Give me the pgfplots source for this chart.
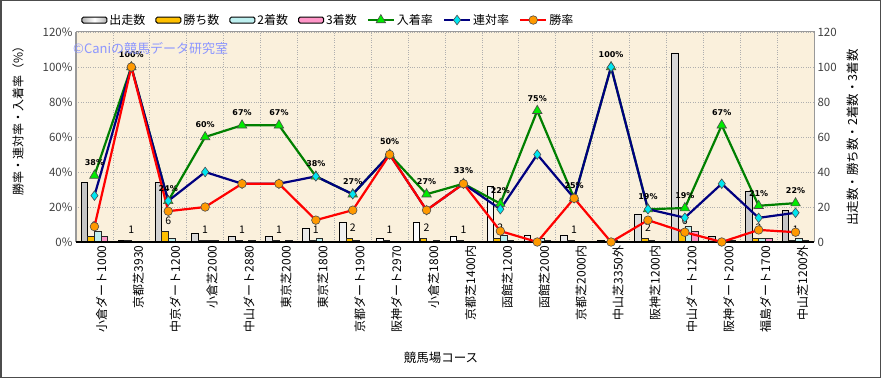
\documentclass[border=0pt]{standalone}
\usepackage{fontspec}
\setmainfont{Noto Sans CJK JP}
\newfontfamily\lblfont{DejaVu Sans}
\usepackage{pgfplots}
\pgfplotsset{compat=1.18}
\usepackage{pgfplotstable}

\definecolor{bgc}{RGB}{250,240,220}
\definecolor{gridc}{RGB}{175,175,175}
\definecolor{goldc}{RGB}{255,192,0}
\definecolor{cyanl}{RGB}{190,240,240}
\definecolor{pinkc}{RGB}{255,150,200}
\definecolor{greenl}{RGB}{0,128,0}
\definecolor{greenm}{RGB}{0,235,0}
\definecolor{navyl}{RGB}{0,0,128}
\definecolor{cyanm}{RGB}{0,230,240}
\definecolor{redl}{RGB}{255,0,0}
\definecolor{orangem}{RGB}{255,153,0}
\definecolor{wm}{RGB}{140,150,255}

\pgfplotsset{linelegend/.style={legend image code/.code={\draw[mark repeat=2,mark phase=2,##1] plot coordinates {(0pt,0pt)(13pt,0pt)(26pt,0pt)};}}}

\pgfplotstableread[col sep=comma]{
x,n,w,s,t,win,ren,fuk,lf,lw
0,34,3,6,3,8.8,26.5,38,38\%,3
1,1,1,0,0,100,100,100,100\%,1
2,34,6,2,0,17.6,23.5,23.5,24\%,6
3,5,1,1,1,20,40,60,60\%,1
4,3,1,0,1,33.3,33.3,66.7,67\%,1
5,3,1,0,1,33.3,33.3,66.7,67\%,1
6,8,1,2,0,12.5,37.5,37.5,38\%,1
7,11,2,1,0,18.2,27.3,27.3,27\%,2
8,2,1,0,0,50,50,50,50\%,1
9,11,2,0,1,18.2,18.2,27.3,27\%,2
10,3,1,0,0,33.3,33.3,33.3,33\%,1
11,32,2,4,1,6.25,18.75,21.9,22\%,2
12,4,0,2,1,0,50,75,75\%,{}
13,4,1,0,0,25,25,25,25\%,1
14,1,0,1,0,0,100,100,100\%,{}
15,16,2,1,0,12.5,18.75,18.75,19\%,2
16,108,6,9,6,5.6,13.9,19.4,19\%,6
17,3,0,1,1,0,33.3,66.7,67\%,{}
18,29,2,2,2,6.9,13.8,20.7,21\%,2
19,18,1,2,1,5.6,16.7,22.2,22\%,1
}\data

\begin{document}
\begin{tikzpicture}
\useasboundingbox (0,0) rectangle (881pt,378pt);
\fill[white] (0,0) rectangle (881pt,378pt);
\begin{axis}[
  at={(76pt,136pt)}, anchor=south west, scale only axis, width=738pt, height=210pt,
  xmin=-0.5, xmax=19.5, ymin=0, ymax=120,
  axis background/.style={fill=bgc},
  xtick={0,...,19}, xticklabels={},
  major tick length=0pt, minor tick length=0pt,
  minor xtick={0.5,1.5,...,18.5},
  xminorgrids=true, ymajorgrids=true, ytick={0,20,...,120},
  major grid style={gridc, dotted, line width=0.7pt},
  minor grid style={gridc, dotted, line width=0.7pt},
  yticklabel pos=right,
  axis line style={draw=gray!80, line width=1pt},
  ticklabel style={font=\fontsize{11.5}{13}\selectfont, text=black!75},
  /pgf/number format/assume math mode=true,
]
\addplot[ybar, bar width=0.18, bar shift=-0.27, draw=black, line width=0.9pt, left color=gray!45, right color=gray!45, middle color=white] table[x=x,y=n]{\data};
\addplot[ybar, bar width=0.18, bar shift=-0.09, draw=black!85, line width=0.7pt, fill=goldc,
  nodes near coords, point meta=explicit symbolic,
  every node near coord/.append style={font=\fontsize{10.5}{12}\selectfont, text=black, yshift=3.5pt}] table[x=x,y=w,meta=lw]{\data};
\addplot[ybar, bar width=0.18, bar shift=0.09, draw=black!85, line width=0.7pt, fill=cyanl] table[x=x,y=s]{\data};
\addplot[ybar, bar width=0.18, bar shift=0.27, draw=black!85, line width=0.7pt, fill=pinkc] table[x=x,y=t]{\data};
\end{axis}

\begin{axis}[
  at={(76pt,136pt)}, anchor=south west, scale only axis, width=738pt, height=210pt,
  xmin=-0.5, xmax=19.5, ymin=0, ymax=120,
  axis y line*=left, axis x line*=bottom,
  x axis line style={draw=black, line width=1.2pt},
  y axis line style={draw=gray!80, line width=1pt},
  xtick={0,...,19},
  xticklabels={小倉ダート1000,京都芝3930,中京ダート1200,小倉芝2000,中山ダート2880,東京芝2000,東京芝1800,京都ダート1900,阪神ダート2970,小倉芝1800,京都芝1400内,函館芝1200,函館芝2000,京都芝2000内,中山芝3350外,阪神芝1200内,中山ダート1200,阪神ダート2000,福島ダート1700,中山芝1200外},
  xticklabel style={rotate=90, anchor=east, font=\fontsize{12}{14}\selectfont, text=black, xshift=0pt, yshift=-7pt},
  ytick={0,20,...,120},
  yticklabel={\pgfmathprintnumber{\tick}\%},
  yticklabel style={font=\fontsize{11.5}{13}\selectfont, text=black!75},
  major tick length=0pt,
  /pgf/number format/assume math mode=true,
  legend style={at={(0.342,1.057)}, anchor=center, draw=none, fill=none, legend columns=7,
    font=\fontsize{12}{14}\selectfont, /tikz/every even column/.append style={column sep=8pt}},
  legend cell align=left,
]
\addlegendimage{legend image code/.code={\draw[draw=black, line width=1pt, rounded corners=1.5pt, left color=gray!60, right color=gray!60, middle color=white, shading angle=90] (0pt,-3pt) rectangle (25pt,3pt);}}
\addlegendentry{出走数}
\addlegendimage{legend image code/.code={\draw[draw=black, line width=1pt, rounded corners=1.5pt, fill=goldc] (0pt,-3pt) rectangle (25pt,3pt);}}
\addlegendentry{勝ち数}
\addlegendimage{legend image code/.code={\draw[draw=black, line width=1pt, rounded corners=1.5pt, fill=cyanl] (0pt,-3pt) rectangle (25pt,3pt);}}
\addlegendentry{2着数}
\addlegendimage{legend image code/.code={\draw[draw=black, line width=1pt, rounded corners=1.5pt, fill=pinkc] (0pt,-3pt) rectangle (25pt,3pt);}}
\addlegendentry{3着数}

\addplot[linelegend, greenl, line width=2.2pt, mark=triangle*, mark size=5.5pt,
  mark options={fill=greenm, draw=black!70, line width=0.6pt},
  nodes near coords, point meta=explicit symbolic,
  every node near coord/.append style={font=\lblfont\bfseries\fontsize{8}{9}\selectfont, text=black, yshift=6pt}]
  table[x=x,y=fuk,meta=lf]{\data};
\addlegendentry{入着率}
\addplot[linelegend, navyl, line width=2.2pt, mark=diamond*, mark size=4.8pt,
  mark options={fill=cyanm, draw=black!70, line width=0.6pt}]
  table[x=x,y=ren]{\data};
\addlegendentry{連対率}
\addplot[linelegend, redl, line width=2.2pt, mark=*, mark size=4.3pt,
  mark options={fill=orangem, draw=black!70, line width=0.6pt}]
  table[x=x,y=win]{\data};
\addlegendentry{勝率}
\end{axis}

\node[rotate=90, font=\fontsize{12}{14}\selectfont] at (18pt,260pt) {勝率・連対率・入着率（\%）};
\node[rotate=90, font=\fontsize{12.5}{14}\selectfont] at (853pt,240.5pt) {出走数・勝ち数・2着数・3着数};
\node[font=\fontsize{12.5}{14}\selectfont] at (441pt,20pt) {競馬場コース};
\node[anchor=west, inner sep=0pt, font=\fontsize{13}{15}\selectfont, text=wm] at (73pt,329pt) {©Caniの競馬データ研究室};
\draw[black!70, line width=1.5pt] (0.75pt,0.75pt) rectangle (880.25pt,377.25pt);
\end{tikzpicture}
\end{document}
